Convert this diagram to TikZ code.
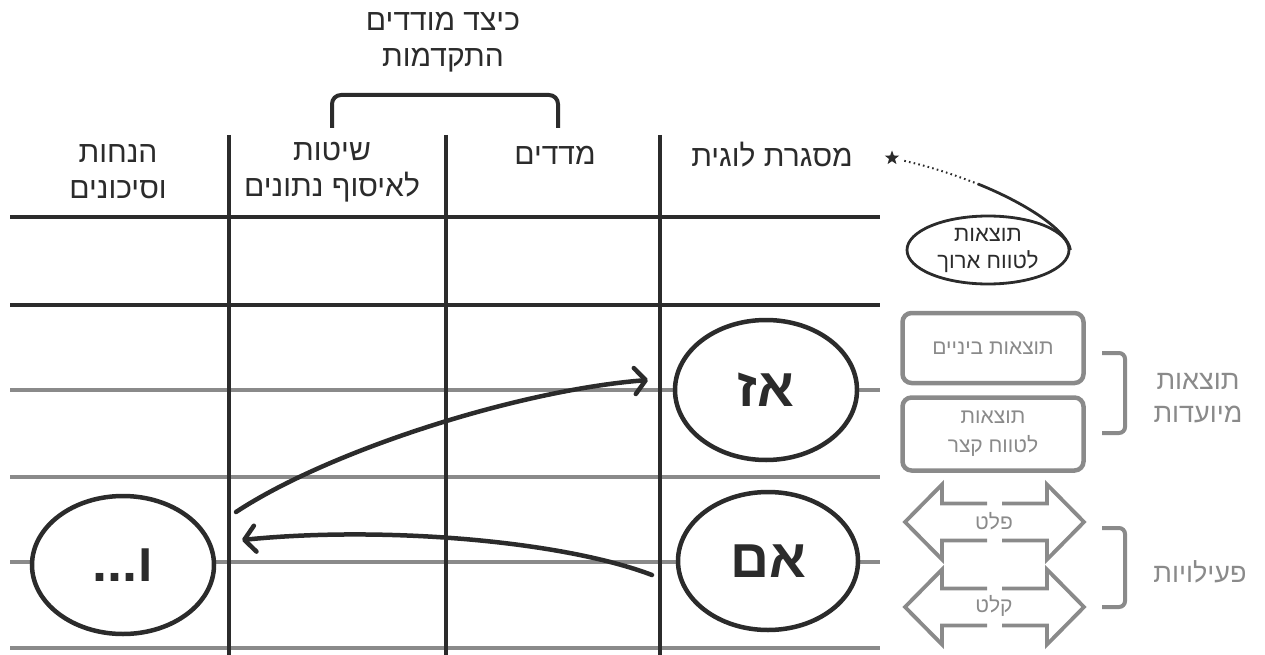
\documentclass[tikz,border=0pt]{standalone}
\usepackage{fontspec}
\setmainfont[Script=Hebrew]{Liberation Sans}
\TeXXeTstate=1
\usetikzlibrary{shapes.geometric,arrows.meta}
\newcommand{\rtl}[1]{\beginR #1\endR}
\definecolor{ink}{HTML}{2B2B2B}
\definecolor{soft}{HTML}{8A8A8A}

\begin{document}
\begin{tikzpicture}[x=1pt,y=-1pt,
  gridline/.style={draw=ink,line width=4pt},
  rowline/.style={draw=soft,line width=4.5pt},
  head/.style={font=\fontsize{30}{36}\selectfont,text=ink,align=center,inner sep=0pt},
  label/.style={font=\fontsize{21}{28}\selectfont,text=soft,align=center,inner sep=0pt},
  side/.style={font=\fontsize{27}{33}\selectfont,text=soft,align=center,inner sep=0pt},
  bubble/.style={ellipse,draw=ink,line width=4.5pt,fill=white,inner sep=0pt,
    minimum width=182pt,minimum height=140pt,font=\bfseries\fontsize{54}{60}\selectfont,text=ink},
  outcome/.style={draw=soft,line width=4.5pt,rounded corners=9pt,minimum width=181pt,
    font=\fontsize{21}{29}\selectfont,text=soft,align=center,inner sep=0pt},
  bracket/.style={draw=soft,line width=4pt,rounded corners=6pt},
  conn/.style={draw=ink,line width=4.5pt,line cap=round,
    -{Straight Barb[length=11pt,width=26pt,round]}}]
\useasboundingbox (0,0) rectangle (1265,655);

% table rows
\draw[gridline] (10,217) -- (880,217);
\draw[gridline] (10,305) -- (880,305);
\foreach \y in {390,477,562,648}
  \draw[rowline] (10,\y) -- (880,\y);
% table columns
\foreach \x in {229,446,660}
  \draw[gridline] (\x,135) -- (\x,655);

% column headers
\node[head] (hdLogic) at (772,155) {\rtl{מסגרת לוגית}};
\node[head] (hdMeas) at (555,155) {\rtl{מדדים}};
\node[head] (hdMeth) at (332,172) {\rtl{שיטות}\\\rtl{לאיסוף נתונים}};
\node[head] (hdRisk) at (118,172) {\rtl{הנחות}\\\rtl{וסיכונים}};

% grouping over the two middle columns
\node[head] (title) at (443,42) {\rtl{כיצד מודדים}\\\rtl{התקדמות}};
\draw[gridline,rounded corners=9pt] (332,128) |- (445,95) -| (558,128);

% logic bubbles
\node[bubble] (az) at (766,390) {\rtl{אז}};
\node[bubble,minimum width=180pt,minimum height=138pt] (im) at (768,561) {\rtl{אם}};
\node[bubble,minimum width=182pt,minimum height=138pt] (ve) at (123,565) {\rtl{ו...}};

% links between the columns
\coordinate (upStart) at (236,512);
\coordinate (upEnd) at (648,380);
\draw[conn] (upStart) .. controls (330,450) and (520,390) .. (upEnd);
\coordinate (backStart) at (652,575);
\coordinate (backEnd) at (242,540);
\draw[conn] (backStart) .. controls (560,540) and (380,526) .. (backEnd);

% long-term outcomes
\node[ellipse,draw=ink,line width=2.8pt,inner sep=0pt,minimum width=162pt,minimum height=68pt,
  font=\fontsize{22}{27}\selectfont,text=ink,align=center] (long) at (988,250)
  {\rtl{תוצאות}\\\rtl{לטווח ארוך}};
\node[star,star points=5,star point ratio=2.4,fill=ink,inner sep=0pt,minimum size=15pt] (star) at (892,158) {};
\coordinate (bend) at (978,184);
\draw[ink,line width=2pt,dash pattern=on 1.6pt off 3.2pt,shorten <=9pt] (star) to[bend left=4] (bend);
\draw[ink,line width=2.8pt] (bend) .. controls (1030,205) and (1068,232) .. (long.east);

% intended outcomes
\node[outcome,minimum height=70pt] (mid) at (993,348) {\rtl{תוצאות ביניים}};
\node[outcome,minimum height=73pt] (short) at (993,434) {\rtl{תוצאות}\\\rtl{לטווח קצר}};
\draw[bracket] (1102,353) -- (1125,353) -- (1125,433) -- (1102,433);
\node[side] (intended) at (1198,398) {\rtl{תוצאות}\\\rtl{מיועדות}};

% activities: output and input arrows
\foreach \c in {522,607} {
  \draw[soft,line width=3.8pt,line join=miter]
    (987,\c-18.5) -- (942,\c-18.5) -- (942,\c-37.5) -- (905,\c) -- (942,\c+37.5) -- (942,\c+18.5) -- (987,\c+18.5);
  \draw[soft,line width=3.8pt,line join=miter]
    (1002,\c-18.5) -- (1047,\c-18.5) -- (1047,\c-37.5) -- (1084,\c) -- (1047,\c+37.5) -- (1047,\c+18.5) -- (1002,\c+18.5);
}
\node[label] (output) at (994,521) {\rtl{פלט}};
\node[label] (input) at (994,606) {\rtl{קלט}};
\draw[bracket] (1102,528) -- (1125,528) -- (1125,607) -- (1102,607);
\node[side] (acts) at (1200,572) {\rtl{פעילויות}};
\end{tikzpicture}
\end{document}
